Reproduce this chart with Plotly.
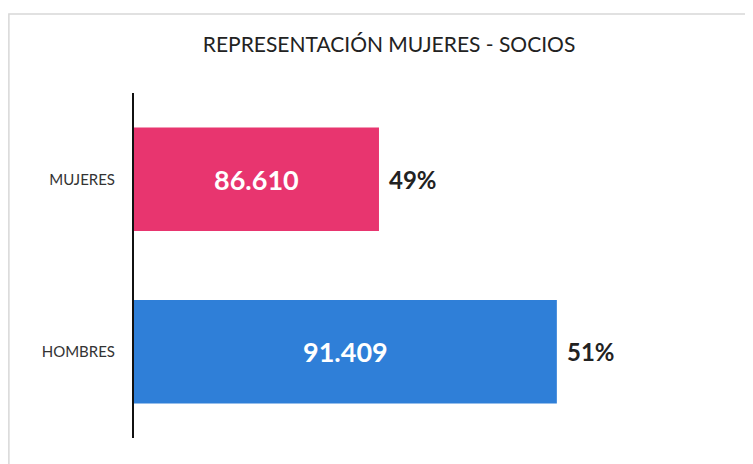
import plotly.graph_objects as go

categorias = ["HOMBRES", "MUJERES"]
socios = [91409, 86610]
porcentajes = ["51%", "49%"]
colores = ["#2F7FD8", "#E8356F"]
inicio_eje = 80000

etiquetas = ["{:,}".format(v).replace(",", ".") for v in socios]
fuente = "Lato, Open Sans, sans-serif"

fig = go.Figure()

fig.add_trace(go.Bar(
    y=categorias,
    x=socios,
    orientation="h",
    marker=dict(color=colores, line=dict(width=0)),
    hoverinfo="skip",
))

for cat, val, txt, pct in zip(categorias, socios, etiquetas, porcentajes):
    # valor dentro de la barra (centrado en la parte visible)
    fig.add_annotation(
        x=(inicio_eje + val) / 2, y=cat, text="<b>" + txt + "</b>",
        showarrow=False, xanchor="center",
        font=dict(family=fuente, size=27, color="white"),
    )
    fig.add_annotation(
        x=val, y=cat, text="<b>" + pct + "</b>",
        showarrow=False, xanchor="left", xshift=8,
        font=dict(family=fuente, size=24, color="#222222"),
    )

# marco del grafico escaneado
fig.add_shape(
    type="rect", xref="paper", yref="paper",
    x0=-0.211, x1=1.2, y0=-0.2, y1=1.229,
    line=dict(color="#D8D8D8", width=1.5),
    fillcolor="rgba(0,0,0,0)", layer="below",
)

fig.update_layout(
    width=753, height=464,
    margin=dict(l=126, r=34, t=85, b=34, autoexpand=False),
    paper_bgcolor="white",
    plot_bgcolor="white",
    showlegend=False,
    bargap=0.4,
    title=dict(
        text="REPRESENTACIÓN MUJERES - SOCIOS",
        x=0.506, xanchor="center", y=0.92, yanchor="middle",
        font=dict(family=fuente, size=21, color="#222222"),
    ),
    xaxis=dict(
        range=[inicio_eje, 96000], visible=False, fixedrange=True,
    ),
    yaxis=dict(
        showline=True, linecolor="#111111", linewidth=2,
        showgrid=False, zeroline=False, ticks="", automargin=False,
        ticklabelstandoff=14,
        tickfont=dict(family=fuente, size=15, color="#333333"),
        fixedrange=True,
    ),
)

fig.write_html("out.html")
